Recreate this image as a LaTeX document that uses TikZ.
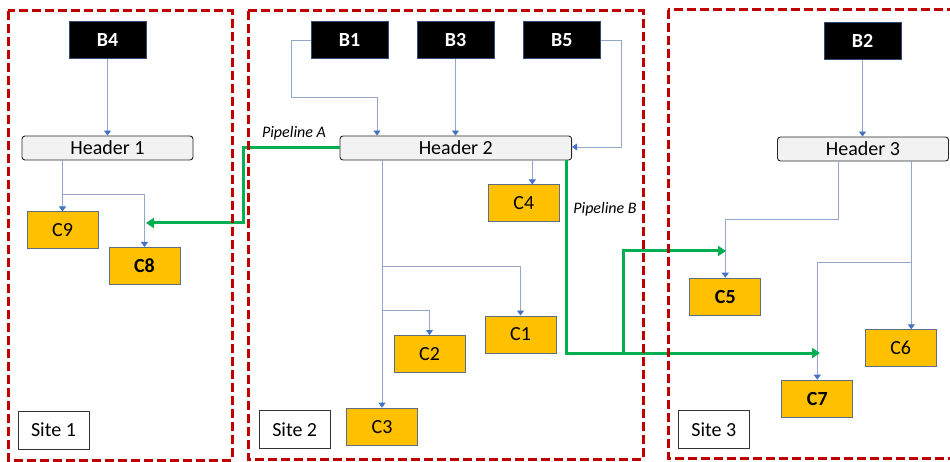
\documentclass[tikz,border=0pt]{standalone}
\usepackage{fontspec}
\setmainfont{Carlito}
\usetikzlibrary{arrows.meta}
\definecolor{sitered}{HTML}{C00000}
\definecolor{pipegreen}{HTML}{00B050}
\definecolor{cyellow}{HTML}{FFC000}
\definecolor{cborder}{HTML}{5E6E87}
\definecolor{bborder}{HTML}{2F4A75}
\definecolor{hdrfill}{HTML}{F2F2F2}
\definecolor{connline}{HTML}{93A8C9}
\definecolor{arrblue}{HTML}{4472C4}
\tikzset{
  bbox/.style={draw=bborder, line width=1pt, fill=black, text=white, inner sep=0pt,
    minimum width=77pt, minimum height=37pt, font=\bfseries\fontsize{20}{24}\selectfont},
  hdr/.style={draw=black!85, line width=0.9pt, fill=hdrfill, rounded corners=3pt, inner sep=0pt,
    minimum height=24pt, font=\fontsize{20}{24}\selectfont},
  cbox/.style={draw=cborder, line width=1pt, fill=cyellow, inner sep=0pt,
    minimum width=71pt, minimum height=37pt, font=\fontsize{20}{24}\selectfont},
  cboxb/.style={cbox, font=\bfseries\fontsize{20}{24}\selectfont},
  sitelbl/.style={draw=black!80, line width=1pt, fill=white, inner sep=0pt,
    minimum width=71pt, minimum height=38pt, font=\fontsize{20}{24}\selectfont},
  site/.style={draw=sitered, line width=3pt, dash pattern=on 9pt off 4pt},
  conn/.style={draw=connline, line width=0.9pt, -{Triangle[width=7pt,length=5pt,color=arrblue]}},
  connplain/.style={draw=connline, line width=0.9pt},
  pipe/.style={draw=pipegreen, line width=3pt},
  pipearrow/.style={pipe, -{Triangle[width=10pt,length=8pt]}},
  plabel/.style={inner sep=0pt, font=\itshape\fontsize{16}{19}\selectfont}
}
\begin{document}
\begin{tikzpicture}[x=1pt, y=-1pt]
\useasboundingbox (0,0) rectangle (950,462);
\clip (0,0) rectangle (950,462);
\fill[white] (0,0) rectangle (950,462);

% ---- nodes ----
\node[bbox] (B4) at (107.5,40.5) {B4};
\node[bbox] (B1) at (349.5,40.5) {B1};
\node[bbox] (B3) at (455.5,40.5) {B3};
\node[bbox] (B5) at (561.7,40.5) {B5};
\node[bbox] (B2) at (862.5,40.8) {B2};

\node[hdr, minimum width=171pt] (H1) at (107.5,148) {Header 1};
\node[hdr, minimum width=231.7pt] (H2) at (455.8,148) {Header 2};
\node[hdr, minimum width=171pt] (H3) at (863,149) {Header 3};

\node[cbox] (C9) at (62.5,230.5) {C9};
\node[cboxb] (C8) at (144.5,266) {C8};
\node[cbox] (C4) at (523.8,203.5) {C4};
\node[cbox] (C1) at (520.5,334.5) {C1};
\node[cbox] (C2) at (429.5,354) {C2};
\node[cbox] (C3) at (382,426.7) {C3};
\node[cboxb] (C5) at (725.3,296.7) {C5};
\node[cbox] (C6) at (900.7,348.3) {C6};
\node[cboxb] (C7) at (817.3,398.7) {C7};

\node[sitelbl] (S1) at (53.5,430) {Site 1};
\node[sitelbl] (S2) at (294.7,429.5) {Site 2};
\node[sitelbl] (S3) at (713.8,429.5) {Site 3};

\node[plabel] (plA) at (294,133) {Pipeline A};
\node[plabel] (plB) at (605,209) {Pipeline B};

% ---- coordinates ----
\coordinate (j1) at (62.5,194);
\coordinate (b1b) at (291,97);
\coordinate (j2a) at (382.5,266);
\coordinate (j2b) at (382.5,310);
\coordinate (j3a) at (838.7,219.7);
\coordinate (j3b) at (911.3,262.7);
\coordinate (ga) at (243,223);
\coordinate (gaEnd) at (146,223);
\coordinate (gb1) at (566.8,353);
\coordinate (gb2) at (623.3,353);
\coordinate (gC5) at (726,251);
\coordinate (gC7) at (820,353);

% ---- site 1 connectors ----
\draw[conn] (B4.south) -- (B4.south |- H1.north);
\draw[conn] (C9.north |- H1.south) -- (C9.north);
\draw[conn] (j1) -| (C8.north);

% ---- site 2 connectors ----
\draw[conn] (B1.west) -| (b1b) -| ([xshift=-78.8pt]H2.north);
\draw[conn] (B3.south) -- (B3.south |- H2.north);
\draw[conn] (B5.east) -- ++(21,0) |- ([yshift=1pt]H2.east);
\draw[conn] ([xshift=76.5pt]H2.south) -- ([xshift=76.5pt]H2.south |- C4.north);
\draw[conn] (C3.north |- H2.south) -- (C3.north);
\draw[conn] (j2a) -| (C1.north);
\draw[conn] (j2b) -| (C2.north);

% ---- site 3 connectors ----
\draw[conn] (B2.south) -- (B2.south |- H3.north);
\draw[conn] (j3a |- H3.south) -- (j3a) -| (C5.north);
\draw[conn] (j3b |- H3.south) -- (j3b |- C6.north);
\draw[conn] (j3b) -| (C7.north);

% ---- pipelines ----
\draw[pipearrow] (H2.west) -| (ga) -- (gaEnd);
\draw[pipearrow] ([xshift=111pt]H2.south) -- (gb1) -- (gC7);
\draw[pipearrow] (gb2) |- (gC5);

% ---- sites ----
\draw[site] (8,11) rectangle (232,460);
\draw[site] (248,11) rectangle (643,459);
\draw[site] (668,10) rectangle (975,458);
\end{tikzpicture}
\end{document}
